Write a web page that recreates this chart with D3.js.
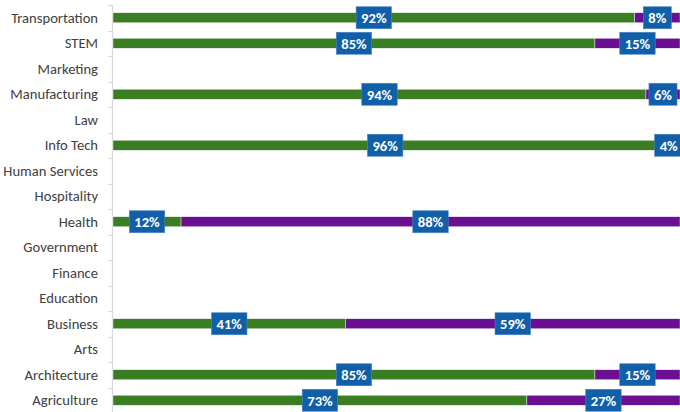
<!DOCTYPE html>
<html>
<head>
<meta charset="utf-8">
<script src="https://cdn.jsdelivr.net/npm/d3@7"></script>
<style>
  body { margin: 0; background: #fff; }
  svg { display: block; font-family: Carlito, Calibri, "Noto Sans", sans-serif; }
</style>
</head>
<body>
<svg width="680" height="412"></svg>
<script>
const W = 680, H = 412;
const LEFT = 113, RIGHT = 680, TOP = 5, BOTTOM = 413;
const GREEN = '#3b7d23', PURPLE = '#6a0f92', BOX = '#115fa9', AXIS = '#d9d9d9';

// categories top to bottom
const categories = ['Transportation', 'STEM', 'Marketing', 'Manufacturing', 'Law', 'Info Tech',
    'Human Services', 'Hospitality', 'Health', 'Government', 'Finance', 'Education',
    'Business', 'Arts', 'Architecture', 'Agriculture'];
const greenVals  = [92, 85, 0, 94, 0, 96, 0, 0, 12, 0, 0, 0, 41, 0, 85, 73];
const purpleVals = [8, 15, 0, 6, 0, 4, 0, 0, 88, 0, 0, 0, 59, 0, 15, 27];

const svg = d3.select('svg');

const x = d3.scaleLinear().domain([0, 100]).range([LEFT, RIGHT]);
const yb = d3.scaleBand().domain(categories).range([TOP, BOTTOM]);

// axis line + ticks between categories
svg.append('line')
    .attr('x1', LEFT - 0.5).attr('x2', LEFT - 0.5)
    .attr('y1', TOP).attr('y2', BOTTOM)
    .attr('stroke', AXIS).attr('stroke-width', 1.2);
categories.forEach(function (c) {
    let ty = Math.round(yb(c)) + 0.5;
    svg.append('line')
        .attr('x1', LEFT - 5).attr('x2', LEFT)
        .attr('y1', ty).attr('y2', ty)
        .attr('stroke', AXIS).attr('stroke-width', 1.2);
});

// category labels
categories.forEach(function (c) {
    svg.append('text')
        .attr('x', 98)
        .attr('y', yb(c) + yb.bandwidth() / 2)
        .attr('dy', '0.35em')
        .attr('text-anchor', 'end')
        .attr('font-size', 14.6)
        .attr('fill', '#404040')
        .text(c);
});

const rows = categories.map((c, i) => ({c: c, g: greenVals[i], p: purpleVals[i]}));
const barH = 10;

// bars
rows.forEach(function (r) {
    if (r.g + r.p === 0) return;
    let cy = yb(r.c) + yb.bandwidth() / 2;
    svg.append('rect')
        .attr('x', x(0)).attr('y', cy - barH / 2)
        .attr('width', x(r.g) - x(0)).attr('height', barH)
        .attr('fill', GREEN).attr('stroke', '#fff').attr('stroke-width', 0.4);
    svg.append('rect')
        .attr('x', x(r.g)).attr('y', cy - barH / 2)
        .attr('width', x(r.g + r.p) - x(r.g)).attr('height', barH)
        .attr('fill', PURPLE).attr('stroke', '#fff').attr('stroke-width', 0.4);
});

// data labels
rows.forEach(function (r) {
    if (r.g + r.p === 0) return;
    let cy = yb(r.c) + yb.bandwidth() / 2;
    [[0, r.g], [r.g, r.g + r.p]].forEach(function (seg) {
        let cx = (x(seg[0]) + x(seg[1])) / 2;
        let g = svg.append('g');
        let t = g.append('text')
            .attr('x', cx).attr('y', cy)
            .attr('dy', '0.36em')
            .attr('text-anchor', 'middle')
            .attr('font-size', 14.6)
            .attr('font-weight', 'bold')
            .attr('fill', '#fff')
            .text((seg[1] - seg[0]) + '%');
        let bw = t.node().getComputedTextLength() + 10;
        g.insert('rect', 'text')
            .attr('x', cx - bw / 2).attr('y', cy - 11)
            .attr('width', bw).attr('height', 22)
            .attr('fill', BOX).attr('stroke', '#4f86c0').attr('stroke-width', 0.6);
    });
});
</script>
</body>
</html>
